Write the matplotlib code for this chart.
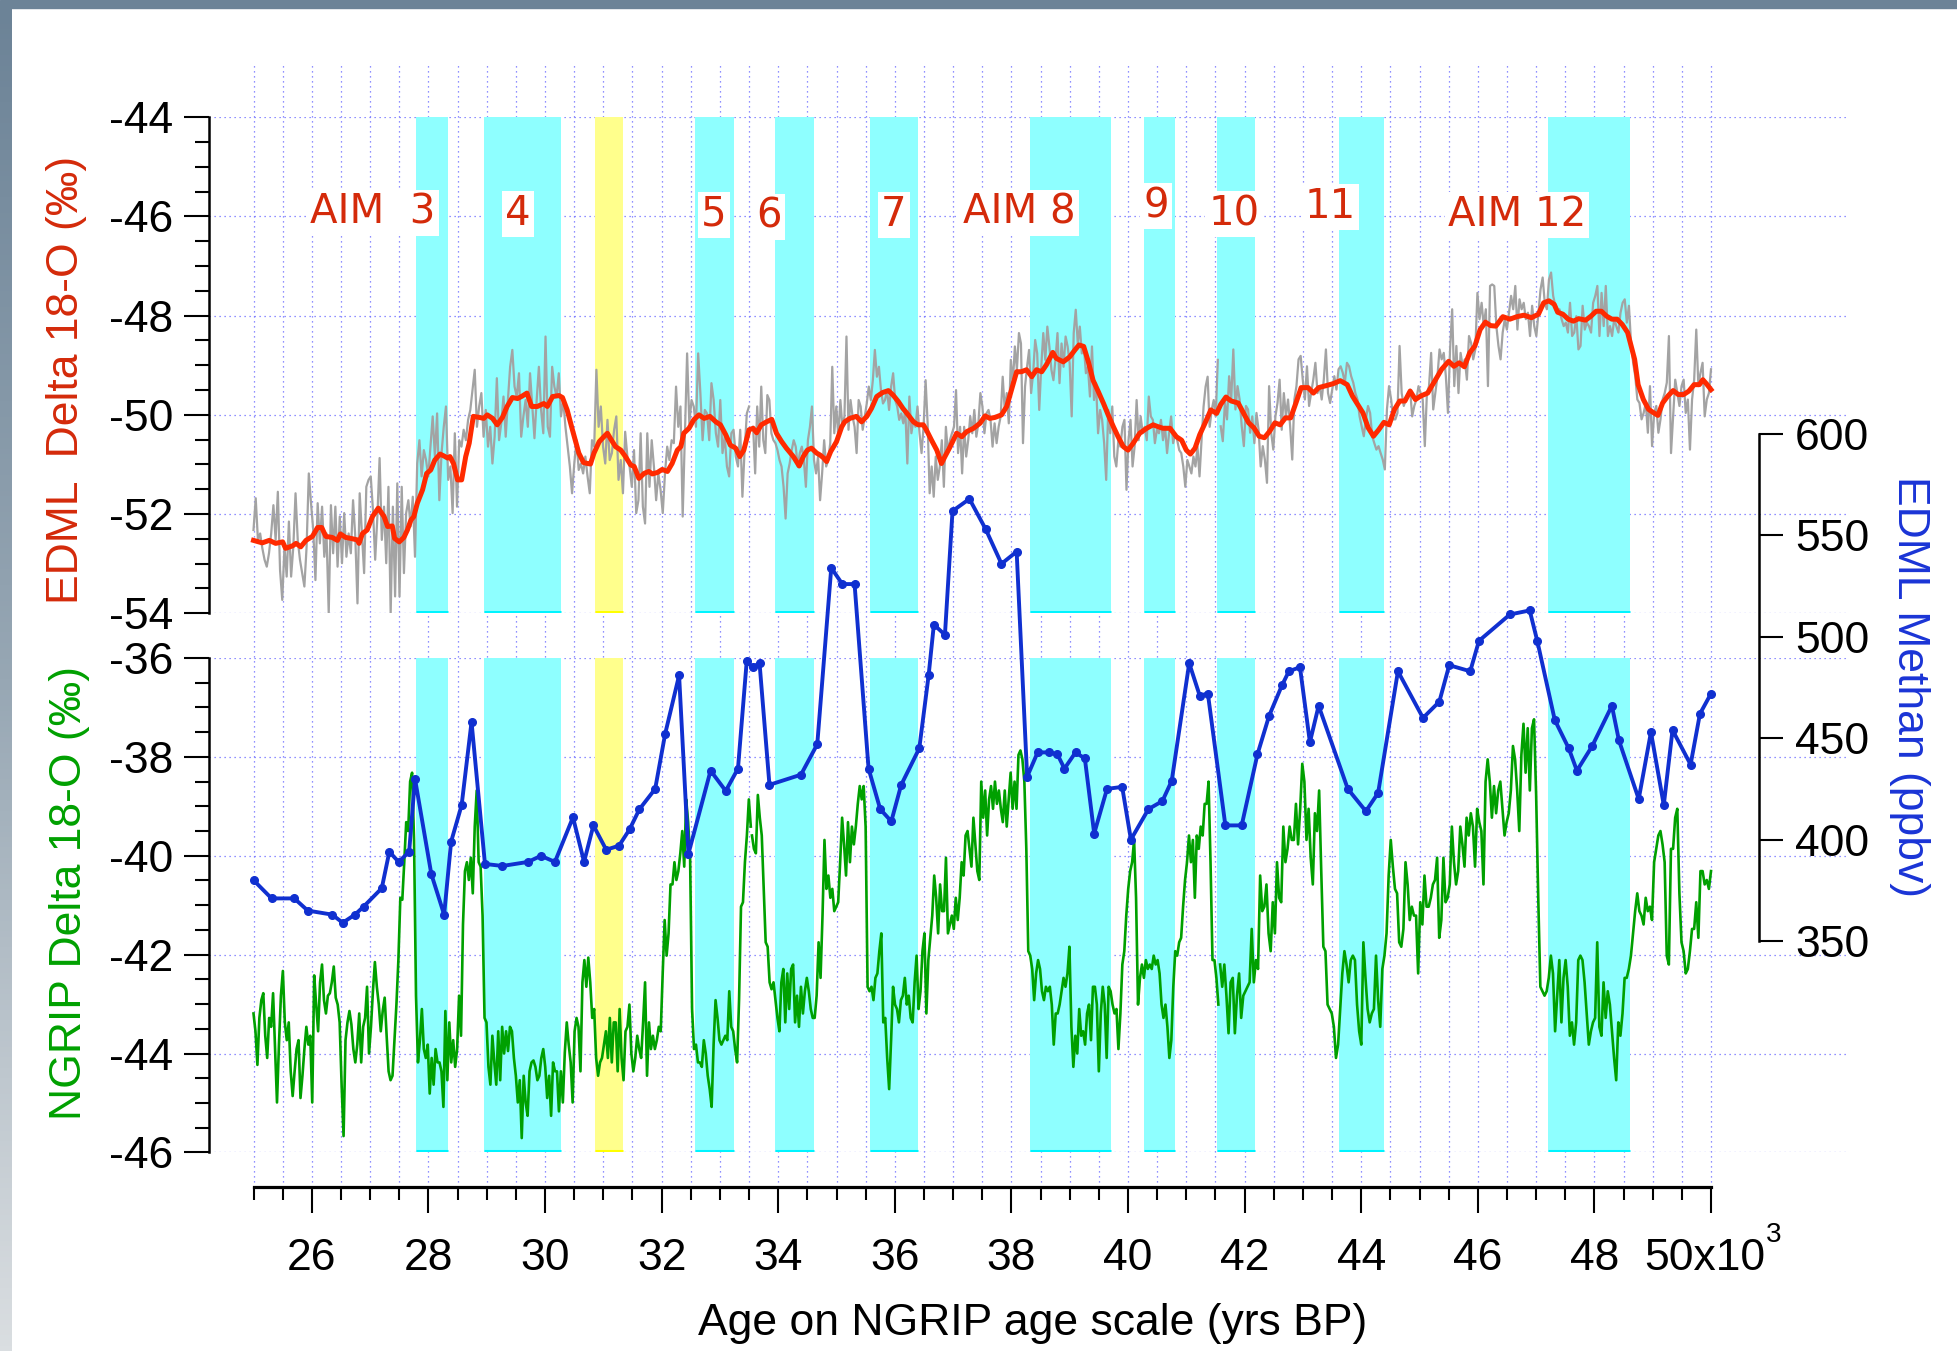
import numpy as np
import matplotlib
matplotlib.use("Agg")
import matplotlib.pyplot as plt
from matplotlib.ticker import MultipleLocator, FixedLocator
from matplotlib.patches import Rectangle
from matplotlib.colors import LinearSegmentedColormap

plt.rcParams['font.family'] = ['Liberation Sans', 'DejaVu Sans']
plt.rcParams['axes.unicode_minus'] = False

# ---------------- data (ages in ka BP) ----------------
# EDML d18O, smoothed (red)
RED_AGE = [
    25.00, 25.15, 25.27, 25.38, 25.50, 25.55, 25.67, 25.73, 25.81, 25.90, 26.01, 26.10, 26.17, 26.24,
    26.35, 26.44, 26.49, 26.58, 26.67, 26.78, 26.81, 26.87, 26.95, 27.04, 27.14, 27.24, 27.30, 27.38,
    27.42, 27.50, 27.58, 27.64, 27.70, 27.75, 27.81, 27.90, 27.97, 28.04, 28.11, 28.20, 28.27, 28.33,
    28.37, 28.43, 28.50, 28.57, 28.64, 28.70, 28.77, 28.87, 28.95, 29.01, 29.10, 29.18, 29.27, 29.35,
    29.44, 29.53, 29.61, 29.69, 29.77, 29.87, 29.98, 30.04, 30.13, 30.24, 30.30, 30.38, 30.47, 30.58,
    30.66, 30.73, 30.78, 30.84, 30.93, 31.01, 31.07, 31.13, 31.21, 31.30, 31.38, 31.47, 31.53, 31.61,
    31.70, 31.78, 31.84, 31.93, 32.01, 32.10, 32.18, 32.27, 32.33, 32.38, 32.47, 32.55, 32.64, 32.73,
    32.83, 32.93, 33.01, 33.10, 33.18, 33.27, 33.34, 33.41, 33.50,
    33.57, 33.63, 33.71, 33.80, 33.89, 33.97, 34.06, 34.14, 34.26, 34.36, 34.43, 34.50, 34.57, 34.66,
    34.72, 34.78, 34.83, 34.90, 35.00, 35.09, 35.14, 35.23, 35.34, 35.43, 35.52, 35.60, 35.69, 35.79,
    35.89, 35.97, 36.06, 36.14, 36.23, 36.32, 36.40, 36.49, 36.54, 36.63, 36.72, 36.80, 36.86, 36.95,
    37.06, 37.15, 37.23, 37.35, 37.46, 37.55, 37.63, 37.72, 37.83, 37.92, 38.00, 38.09, 38.17, 38.26,
    38.35, 38.43, 38.52, 38.60, 38.71, 38.77, 38.89, 39.00, 39.09, 39.16, 39.24, 39.32, 39.40, 39.49,
    39.58, 39.66, 39.75, 39.83, 39.92, 40.00, 40.09, 40.20, 40.32, 40.43, 40.52, 40.60, 40.72, 40.83,
    40.92, 41.00, 41.07, 41.15, 41.23, 41.32, 41.42, 41.52,
    41.59, 41.68, 41.77, 41.89, 41.98, 42.07, 42.16, 42.25, 42.34, 42.43, 42.52, 42.61, 42.70, 42.79,
    42.88, 42.97, 43.09, 43.18, 43.27, 43.40, 43.52, 43.64, 43.76, 43.85, 43.94, 44.03, 44.12, 44.21,
    44.30, 44.39, 44.48, 44.57, 44.66, 44.75, 44.84, 44.93, 45.02, 45.14, 45.26, 45.38, 45.50, 45.59,
    45.68, 45.77, 45.86, 45.95, 46.04, 46.13, 46.22, 46.31, 46.43, 46.55, 46.67, 46.79, 46.92, 47.04,
    47.13, 47.22, 47.31, 47.37, 47.46, 47.55, 47.64, 47.73, 47.85, 47.94, 48.03, 48.12, 48.21, 48.30,
    48.39, 48.48, 48.57, 48.64, 48.69, 48.75, 48.84, 48.93, 49.02, 49.09, 49.17, 49.26, 49.35, 49.44,
    49.53, 49.62, 49.71, 49.80, 49.86, 49.92, 50.00,
]
RED_D18O = [
    -52.53, -52.58, -52.53, -52.59, -52.56, -52.69, -52.64, -52.59, -52.66, -52.53, -52.45, -52.27, -52.27, -52.45,
    -52.47, -52.53, -52.40, -52.47, -52.49, -52.52, -52.59, -52.39, -52.32, -52.05, -51.88, -52.05, -52.25, -52.24,
    -52.49, -52.56, -52.47, -52.32, -52.12, -52.05, -51.78, -51.51, -51.18, -51.11, -50.91, -50.79, -50.83, -50.87,
    -50.84, -50.98, -51.31, -51.31, -50.84, -50.57, -50.03, -50.05, -50.07, -50.00, -50.07, -50.20, -50.05, -49.83,
    -49.65, -49.67, -49.62, -49.56, -49.83, -49.83, -49.77, -49.83, -49.63, -49.61, -49.65, -49.90, -50.30, -50.77,
    -50.96, -50.98, -50.99, -50.77, -50.54, -50.44, -50.37, -50.49, -50.64, -50.71, -50.84, -51.01, -51.04, -51.28,
    -51.18, -51.14, -51.19, -51.16, -51.10, -51.14, -50.98, -50.71, -50.64, -50.37, -50.27, -50.10, -50.00, -50.07,
    -50.03, -50.14, -50.20, -50.40, -50.61, -50.67, -50.84, -50.71, -50.30,
    -50.27, -50.36, -50.20, -50.14, -50.09, -50.37, -50.54, -50.67, -50.84, -51.03, -50.84, -50.71, -50.67, -50.77,
    -50.81, -50.87, -50.94, -50.74, -50.54, -50.24, -50.14, -50.07, -50.03, -50.14, -50.03, -49.87, -49.63, -49.55,
    -49.51, -49.60, -49.73, -49.87, -50.00, -50.14, -50.20, -50.20, -50.30, -50.51, -50.71, -50.98, -50.84, -50.64,
    -50.37, -50.44, -50.34, -50.27, -50.17, -50.02, -50.07, -50.05, -50.00, -49.83, -49.50, -49.13, -49.13, -49.09,
    -49.23, -49.09, -49.13, -48.99, -48.74, -48.86, -48.93, -48.83, -48.69, -48.59, -48.62, -48.93, -49.30, -49.53,
    -49.77, -50.00, -50.24, -50.44, -50.64, -50.71, -50.57, -50.37, -50.27, -50.20, -50.24, -50.27, -50.27, -50.44,
    -50.51, -50.71, -50.79, -50.67, -50.40, -50.17, -49.90, -49.97,
    -49.79, -49.64, -49.72, -49.76, -49.96, -50.16, -50.26, -50.43, -50.46, -50.33, -50.16, -50.20, -50.06, -50.06,
    -49.76, -49.45, -49.45, -49.56, -49.45, -49.41, -49.37, -49.31, -49.39, -49.62, -49.79, -49.96, -50.26, -50.43,
    -50.30, -50.15, -50.20, -49.89, -49.72, -49.72, -49.52, -49.69, -49.62, -49.56, -49.32, -49.08, -48.92, -49.02,
    -48.95, -49.03, -48.75, -48.61, -48.28, -48.13, -48.20, -48.21, -48.02, -48.07, -48.02, -47.99, -48.04, -47.97,
    -47.74, -47.70, -47.77, -47.93, -47.97, -48.07, -48.11, -48.06, -48.09, -48.01, -47.91, -47.91, -48.01, -48.07,
    -48.07, -48.18, -48.34, -48.65, -48.88, -49.39, -49.69, -49.89, -49.96, -50.01, -49.76, -49.62, -49.51, -49.59,
    -49.59, -49.52, -49.39, -49.39, -49.29, -49.37, -49.49,
]

# EDML d18O, raw (grey); three runs, each evenly spaced between its first and last age
GRAY_SPANS = [(25.00, 33.50), (33.57, 41.54), (41.59, 50.00)]
GRAY_1 = [
    -52.32, -51.68, -52.52, -52.39, -52.69, -52.92, -53.06, -52.79, -52.39, -51.82,
    -52.52, -51.55, -53.13, -53.73, -52.66, -53.26, -52.15, -53.26, -52.66, -51.58,
    -52.52, -52.92, -53.19, -53.46, -52.66, -51.18, -51.78, -52.32, -53.33, -51.78,
    -52.59, -51.85, -52.86, -52.39, -54.00, -51.82, -52.79, -51.85, -53.06, -52.05,
    -52.99, -51.98, -52.86, -52.39, -52.79, -51.72, -52.45, -53.80, -51.58, -52.39,
    -53.19, -51.45, -51.31, -51.24, -51.92, -52.92, -52.05, -50.87, -52.52, -51.85,
    -52.99, -51.45, -54.00, -51.85, -53.66, -51.38, -53.66, -51.45, -53.19, -51.98,
    -51.72, -52.25, -51.65, -52.86, -50.98, -50.51, -51.24, -50.71, -50.91, -51.24,
    -50.64, -50.03, -50.84, -49.97, -51.72, -50.77, -50.24, -49.83, -51.31, -51.04,
    -51.98, -50.37, -51.85, -50.51, -50.64, -50.30, -50.51, -50.10, -49.90, -49.50,
    -49.09, -50.24, -49.83, -49.56, -50.44, -49.90, -50.64, -50.24, -50.98, -50.44,
    -49.26, -50.51, -50.17, -49.63, -50.44, -49.70, -49.03, -48.69, -49.43, -49.63,
    -49.16, -50.44, -50.03, -49.70, -50.24, -49.16, -49.83, -50.47, -49.70, -49.03,
    -49.90, -50.37, -48.42, -50.24, -50.44, -49.03, -49.43, -49.63, -49.16, -50.03,
    -49.70, -50.24, -50.64, -51.04, -51.58, -50.98, -50.51, -51.11, -50.98, -51.18,
    -50.84, -51.24, -51.58, -50.51, -50.64, -49.09, -50.24, -49.83, -50.64, -50.98,
    -50.10, -50.91, -50.77, -50.30, -50.03, -51.31, -50.91, -51.58, -50.34, -50.84,
    -51.04, -51.45, -50.71, -51.98, -51.72, -50.37, -51.85, -52.19, -50.37, -51.45,
    -50.51, -51.04, -51.72, -51.18, -51.51, -51.98, -51.18, -50.64, -50.91, -50.51,
    -50.57, -49.43, -50.24, -49.83, -52.05, -50.44, -48.76, -50.17, -49.70, -49.83,
    -50.24, -48.76, -49.56, -50.51, -49.90, -49.97, -50.51, -49.36, -49.70, -50.37,
    -50.64, -49.70, -50.77, -50.44, -51.04, -51.24, -50.37, -50.30, -50.84, -51.04,
    -50.30, -51.65, -50.71, -49.97, -49.83,
]
GRAY_2 = [
    -50.24, -51.18, -49.83, -50.64, -49.43, -50.51, -50.77, -49.60, -49.70, -50.37,
    -50.51, -50.57, -50.71, -50.91, -51.04, -51.45, -52.09, -51.18, -50.98, -50.71,
    -50.51, -50.64, -51.04, -50.77, -50.64, -50.91, -51.45, -50.51, -50.24, -49.83,
    -50.91, -51.18, -50.84, -51.72, -51.18, -50.51, -51.04, -50.91, -50.57, -49.03,
    -50.37, -49.83, -50.44, -49.70, -50.24, -50.03, -48.42, -50.30, -49.70, -50.03,
    -50.24, -50.77, -49.70, -49.83, -50.30, -50.03, -49.77, -49.43, -49.70, -49.30,
    -48.69, -49.23, -49.03, -49.50, -49.77, -49.70, -49.50, -49.90, -49.43, -49.16,
    -49.70, -49.83, -50.10, -49.97, -50.17, -49.90, -50.98, -49.63, -50.37, -50.10,
    -50.24, -49.83, -50.37, -50.77, -50.24, -49.30, -50.17, -51.58, -51.04, -51.65,
    -50.84, -51.31, -51.04, -50.51, -51.45, -50.24, -50.77, -50.51, -50.37, -50.24,
    -49.50, -50.77, -50.24, -51.18, -50.24, -50.84, -50.51, -50.03, -50.37, -49.90,
    -50.44, -50.17, -49.56, -49.83, -50.37, -49.97, -49.90, -50.10, -50.64, -50.17,
    -50.57, -50.24, -50.03, -49.23, -49.90, -49.56, -50.17, -48.89, -49.36, -48.62,
    -49.09, -48.35, -48.56, -50.57, -49.43, -49.03, -48.69, -49.56, -49.16, -48.49,
    -48.76, -49.90, -49.03, -48.35, -48.89, -48.22, -48.62, -49.09, -49.30, -48.89,
    -48.35, -49.36, -48.56, -49.03, -48.42, -48.62, -48.96, -50.03, -48.35, -47.88,
    -48.56, -48.22, -48.76, -48.62, -49.16, -49.03, -49.63, -48.62, -49.70, -49.36,
    -50.37, -49.90, -50.10, -50.57, -51.31, -49.90, -50.37, -49.83, -50.84, -51.04,
    -50.51, -50.64, -50.24, -50.10, -51.51, -50.51, -50.10, -51.04, -50.64, -49.70,
    -50.51, -50.03, -50.37, -50.24, -50.51, -49.63, -50.03, -50.10, -50.57, -50.30,
    -50.37, -50.10, -50.51, -50.24, -50.77, -50.37, -50.03, -50.57, -50.37, -50.51,
    -50.71, -50.77, -51.04, -51.45, -50.91, -51.04, -51.18, -50.84, -51.04, -50.64,
    -51.24, -50.51, -49.83, -49.43, -49.23, -50.24, -49.90, -49.70, -50.03, -48.89,
]
GRAY_3 = [
    -50.23, -50.53, -49.76, -50.09, -49.22, -49.69, -48.68, -49.89, -49.42, -49.69,
    -50.23, -50.63, -49.82, -49.89, -50.36, -50.03, -50.57, -49.96, -50.30, -51.04,
    -50.63, -50.90, -51.37, -49.42, -50.36, -50.70, -50.03, -49.76, -49.29, -50.30,
    -49.56, -50.03, -49.69, -50.23, -50.90, -49.69, -49.42, -48.88, -48.81, -49.29,
    -49.69, -49.02, -49.82, -49.56, -49.29, -48.95, -49.56, -49.42, -49.69, -49.29,
    -48.68, -49.56, -49.76, -49.49, -49.22, -49.49, -49.08, -49.02, -49.15, -49.35,
    -48.95, -49.02, -49.22, -49.35, -49.56, -49.69, -50.03, -50.23, -50.43, -50.09,
    -49.82, -49.96, -50.43, -50.57, -50.70, -50.63, -50.77, -50.90, -51.10, -49.89,
    -49.42, -49.69, -50.09, -50.09, -49.96, -48.61, -49.56, -49.82, -49.69, -49.56,
    -49.49, -50.03, -49.82, -49.69, -49.42, -49.56, -49.69, -50.63, -49.56, -49.42,
    -48.75, -49.89, -49.56, -49.22, -48.68, -48.88, -48.75, -49.22, -49.96, -48.68,
    -47.87, -49.42, -48.61, -49.56, -48.75, -49.02, -48.88, -49.29, -48.41, -48.55,
    -48.88, -48.68, -47.54, -48.07, -47.74, -48.21, -47.87, -49.42, -47.40, -47.37,
    -47.40, -48.21, -48.61, -48.88, -48.34, -48.07, -48.28, -47.94, -47.60, -47.87,
    -47.40, -48.28, -47.67, -47.87, -47.74, -48.07, -47.94, -48.41, -47.80, -48.21,
    -48.41, -47.94, -47.47, -47.23, -47.74, -47.87, -47.27, -47.13, -47.60, -47.80,
    -47.94, -47.87, -48.07, -48.21, -48.14, -48.34, -47.74, -48.41, -48.34, -48.01,
    -48.68, -48.61, -47.80, -48.28, -48.14, -48.21, -48.34, -47.74, -47.60, -47.40,
    -48.41, -47.54, -48.21, -47.40, -48.41, -48.21, -48.41, -48.07, -48.21, -48.34,
    -47.94, -47.74, -47.67, -48.14, -47.80, -48.55, -48.95, -49.22, -49.69, -49.76,
    -50.09, -49.96, -49.76, -50.36, -49.42, -50.63, -49.96, -49.82, -50.36, -50.09,
    -49.69, -49.56, -49.35, -48.41, -50.77, -50.03, -49.29, -49.56, -49.82, -49.42,
    -49.29, -49.96, -49.69, -50.70, -49.69, -49.29, -48.28, -49.42, -49.15, -48.95,
    -50.03, -49.69, -49.56, -49.08,
]

# NGRIP d18O (green); three runs, each evenly spaced between its first and last age
GREEN_SPANS = [(25.00, 33.53), (33.55, 41.55), (41.58, 50.00)]
GREEN_1 = [
    -43.19, -43.55, -44.23, -43.28, -42.92, -42.78, -43.64, -44.09, -43.28, -43.46,
    -42.78, -43.91, -44.99, -43.82, -42.83, -42.33, -43.37, -43.73, -43.37, -44.36,
    -44.86, -44.36, -43.91, -43.73, -44.90, -44.45, -43.91, -43.46, -43.82, -43.64,
    -44.99, -42.42, -43.01, -43.55, -42.56, -42.20, -42.92, -43.19, -42.83, -42.78,
    -42.56, -42.24, -42.87, -43.01, -43.37, -44.63, -45.67, -43.73, -43.37, -43.14,
    -43.41, -43.91, -44.18, -43.82, -43.19, -44.18, -43.46, -43.28, -42.65, -44.00,
    -43.46, -42.74, -42.15, -42.65, -43.01, -43.55, -43.14, -42.87, -43.64, -44.36,
    -44.54, -44.45, -43.73, -43.01, -42.11, -40.85, -40.89, -40.13, -39.32, -39.50,
    -38.50, -38.32, -39.68, -42.83, -44.18, -43.73, -43.10, -43.91, -44.09, -43.82,
    -44.81, -44.09, -44.63, -43.91, -44.18, -44.18, -44.36, -45.08, -43.14, -44.54,
    -43.37, -44.18, -43.73, -44.27, -43.91, -42.83, -43.64, -41.39, -40.31, -40.13,
    -40.49, -40.04, -40.76, -39.41, -38.68, -40.13, -40.22, -41.21, -43.28, -43.37,
    -44.27, -44.63, -43.64, -44.18, -44.63, -43.55, -44.54, -43.46, -44.00, -43.55,
    -43.95, -43.46, -43.55, -44.09, -44.45, -44.99, -44.54, -45.71, -44.45, -44.99,
    -45.26, -44.36, -44.18, -44.14, -44.27, -44.54, -44.45, -44.09, -43.91, -44.27,
    -44.90, -44.45, -45.26, -44.18, -44.36, -44.36, -45.17, -44.36, -44.99, -43.98,
    -43.37, -43.82, -44.18, -44.99, -43.55, -43.28, -43.46, -44.36, -42.56, -42.11,
    -42.65, -42.06, -42.56, -43.28, -43.10, -44.09, -44.45, -44.18, -44.09, -43.82,
    -43.55, -44.09, -43.28, -44.18, -43.37, -43.37, -44.36, -43.10, -44.09, -44.54,
    -43.55, -43.46, -43.01, -44.00, -44.36, -44.09, -43.64, -43.91, -44.09, -43.37,
    -42.56, -44.45, -43.37, -43.91, -43.64, -43.91, -43.73, -43.46, -43.55, -42.38,
    -41.30, -42.02, -41.57, -40.58, -40.58, -40.13, -40.49, -40.31, -39.95, -39.50,
    -40.22, -38.86, -39.32, -40.04, -43.10, -43.91, -43.82, -44.18, -44.18, -44.27,
    -43.73, -44.00, -44.45, -44.72, -45.08, -43.82, -42.92, -43.28, -43.73, -43.82,
    -43.73, -43.64, -43.73, -42.74, -43.46, -43.55, -43.91, -44.18, -42.92, -41.03,
    -40.94, -40.13, -39.59, -38.86, -39.41,
]
GREEN_2 = [
    -39.59, -39.86, -39.95, -38.77, -39.23, -39.59, -40.67, -41.75, -41.84, -42.56,
    -42.70, -42.56, -42.92, -43.28, -43.55, -42.56, -42.29, -43.37, -42.38, -43.10,
    -42.29, -42.20, -43.37, -42.83, -43.46, -42.65, -43.19, -42.74, -42.47, -42.74,
    -43.10, -43.28, -43.28, -42.83, -41.75, -42.47, -41.21, -39.68, -40.67, -40.40,
    -40.85, -40.67, -41.12, -41.03, -40.94, -40.13, -39.23, -39.77, -40.40, -39.32,
    -40.13, -39.41, -39.77, -39.41, -38.95, -38.59, -38.86, -38.59, -39.41, -42.65,
    -42.74, -42.65, -42.92, -42.47, -42.38, -41.93, -41.57, -43.37, -43.28, -44.09,
    -44.72, -43.73, -42.65, -43.01, -43.10, -43.37, -42.92, -42.83, -42.47, -43.01,
    -42.83, -43.28, -43.37, -42.56, -42.02, -43.10, -42.74, -41.93, -41.57, -43.19,
    -42.11, -41.66, -41.21, -40.40, -40.85, -41.57, -40.58, -41.12, -41.12, -40.04,
    -41.57, -41.39, -41.21, -41.48, -40.85, -41.30, -40.85, -40.13, -40.40, -39.59,
    -39.50, -39.86, -40.22, -39.23, -39.77, -40.31, -40.49, -38.50, -39.23, -38.68,
    -39.59, -38.86, -38.59, -39.05, -38.50, -38.95, -38.68, -39.05, -39.32, -38.68,
    -39.41, -38.86, -38.32, -39.05, -38.50, -39.05, -37.96, -37.87, -38.05, -38.50,
    -39.86, -41.93, -42.02, -42.29, -42.92, -42.38, -42.11, -42.29, -42.74, -42.92,
    -42.65, -42.74, -42.65, -43.01, -43.82, -43.19, -43.19, -43.01, -42.74, -42.47,
    -42.65, -42.38, -41.84, -43.46, -44.27, -43.64, -44.00, -43.10, -43.64, -43.55,
    -43.82, -43.19, -43.01, -43.73, -42.65, -42.65, -43.01, -44.36, -43.19, -42.65,
    -43.01, -44.09, -42.65, -42.74, -43.01, -43.19, -43.10, -43.91, -43.19, -42.20,
    -41.93, -41.21, -40.67, -40.31, -40.13, -39.68, -40.85, -43.01, -42.47, -42.20,
    -42.47, -42.11, -42.29, -42.20, -42.29, -42.02, -42.20, -42.11, -42.38, -43.01,
    -43.28, -43.01, -43.46, -44.09, -43.73, -42.65, -41.93, -42.02, -41.75, -41.66,
    -41.03, -40.49, -40.13, -39.59, -40.13, -39.68, -40.85, -39.59, -39.86, -39.41,
    -39.59, -38.95, -38.95, -38.50, -40.13, -42.11, -42.11, -42.47, -43.01,
]
GREEN_3 = [
    -42.20, -42.65, -42.20, -42.83, -43.59, -42.56, -42.47, -43.59, -42.83, -42.38,
    -43.28, -42.83, -42.74, -42.65, -42.56, -41.48, -42.56, -42.11, -42.29, -40.40,
    -41.12, -41.03, -40.58, -41.57, -41.93, -40.94, -41.57, -40.13, -40.85, -40.94,
    -39.41, -40.13, -39.86, -39.41, -39.68, -39.68, -38.95, -39.77, -39.05, -38.14,
    -38.50, -39.68, -39.05, -40.04, -40.58, -39.14, -39.50, -38.68, -40.31, -41.84,
    -41.93, -43.01, -43.10, -43.19, -43.46, -44.09, -43.82, -43.10, -42.38, -41.93,
    -42.20, -42.56, -42.11, -42.02, -42.11, -43.01, -43.55, -43.82, -41.75, -42.47,
    -43.10, -43.37, -43.19, -43.10, -42.02, -42.92, -43.46, -42.29, -42.02, -41.57,
    -40.40, -39.68, -40.22, -40.67, -40.76, -41.75, -41.84, -41.48, -40.13, -40.58,
    -41.30, -41.03, -41.21, -41.21, -42.38, -40.94, -41.39, -40.40, -41.03, -41.03,
    -40.85, -40.58, -40.49, -40.04, -41.66, -41.30, -40.04, -40.94, -40.85, -40.58,
    -39.41, -40.13, -40.58, -40.31, -39.41, -39.77, -40.22, -39.23, -39.59, -39.14,
    -39.41, -40.22, -39.05, -39.32, -39.50, -40.58, -38.50, -38.05, -38.50, -39.23,
    -38.59, -39.14, -38.68, -38.50, -39.05, -39.59, -39.32, -39.14, -38.68, -37.78,
    -38.05, -38.68, -39.50, -37.96, -37.33, -38.32, -37.42, -38.68, -37.42, -37.24,
    -38.77, -40.85, -42.65, -42.74, -42.83, -42.74, -42.47, -42.02, -42.38, -43.55,
    -42.83, -42.11, -43.37, -42.47, -42.11, -42.65, -43.64, -43.37, -43.82, -43.37,
    -42.11, -42.02, -42.11, -42.56, -43.19, -43.82, -43.55, -43.37, -43.28, -41.75,
    -43.46, -43.64, -42.56, -43.28, -42.74, -43.01, -43.55, -44.09, -44.54, -43.37,
    -43.64, -43.19, -42.47, -42.47, -42.29, -42.02, -41.57, -41.12, -40.76, -41.12,
    -41.21, -41.39, -40.85, -41.12, -41.03, -41.30, -40.13, -39.86, -39.59, -39.50,
    -39.77, -40.13, -42.02, -42.20, -39.86, -39.86, -39.23, -39.05, -40.76, -41.75,
    -41.93, -42.38, -42.29, -41.93, -41.48, -41.48, -40.94, -41.66, -40.31, -40.31,
    -40.58, -40.49, -40.67, -40.31,
]

# EDML methane (blue, ppbv)
CH4_AGE = [
    25.00, 25.31, 25.70, 25.93, 26.35, 26.53, 26.74, 26.89, 27.20, 27.33, 27.49, 27.67, 27.77,
    28.05, 28.27, 28.39, 28.57, 28.74, 28.97, 29.27, 29.71, 29.93, 30.17,
    30.48, 30.67, 30.83, 31.05, 31.27, 31.45, 31.62, 31.89, 32.06, 32.30, 32.46, 32.84, 33.10, 33.31, 33.46,
    33.56, 33.68, 33.85, 34.39, 34.67, 34.91, 35.10, 35.31, 35.55, 35.75, 35.94, 36.11, 36.42, 36.58,
    36.67, 36.86, 36.99, 37.28, 37.56, 37.83, 38.09,
    38.27, 38.45, 38.65, 38.79, 38.91, 39.10, 39.26, 39.42, 39.64, 39.90, 40.05, 40.35, 40.59, 40.75, 41.05,
    41.23, 41.37, 41.67, 41.95, 42.22, 42.42, 42.64, 42.76, 42.95, 43.12, 43.27, 43.77, 44.08, 44.29,
    44.63, 45.06, 45.34, 45.51, 45.87, 46.02, 46.55, 46.89, 47.02,
    47.32, 47.56, 47.70, 47.96, 48.30, 48.42, 48.76, 48.97, 49.19, 49.34, 49.65, 49.81, 50.00,
]
CH4 = [
    380, 371, 371, 365, 363, 359, 363, 367, 376, 394, 389, 394, 430,
    383, 363, 399, 417, 458, 388, 387, 389, 392, 389,
    411, 389, 407, 395, 397, 405, 415, 425, 452, 481, 393, 434, 424, 435, 488,
    485, 487, 427, 432, 447, 534, 526, 526, 435, 415, 409, 427, 445, 481,
    506, 501, 562, 568, 553, 536, 542,
    431, 443, 443, 442, 435, 443, 440, 403, 425, 426, 400, 415, 419, 429, 487,
    471, 472, 407, 407, 442, 461, 476, 483, 485, 448, 466, 425, 414, 423,
    483, 460, 468, 486, 483, 498, 511, 513, 498,
    459, 445, 434, 446, 466, 449, 420, 453, 417, 454, 437, 462, 472,
]

# Antarctic Isotope Maxima bands (ka) and labels
CYAN_BANDS = [(27.78, 28.34), (28.96, 30.27), (32.58, 33.25), (33.95, 34.62), (35.58, 36.40),
              (38.32, 39.70), (40.27, 40.81), (41.52, 42.18), (43.62, 44.39), (47.21, 48.61)]
YELLOW_BANDS = [(30.85, 31.34)]
AIM_LABELS = ['AIM  3', '4', '5', '6', '7', 'AIM 8', '9', '10', '11', 'AIM 12']
AIM_LABEL_PX = [(373, 213), (518, 214), (714, 215), (769, 217), (894, 215),
                (1019, 213), (1156, 206), (1234, 214), (1330, 207), (1517, 215)]

X_TICKS = list(range(26, 51, 2))
X_TICK_LABELS = [str(t) for t in X_TICKS[:-1]] + ['']

# ---------------- layout ----------------
W, H = 1958, 1351
X0_PX, PX_PER_KA = 253.5, 58.3          # 25 ka at x=253.5 px, 58.3 px per ka


def px2ka(x):
    return 25 + (x - X0_PX) / PX_PER_KA


def box(x0, y0, x1, y1):
    return [x0 / W, 1 - y1 / H, (x1 - x0) / W, (y1 - y0) / H]


XLIM = (px2ka(209), px2ka(1849))
GRID_C = '#6c6cff'
GRID_LS = (0, (1, 3))
RED_TXT = '#d42a0a'
GREEN = '#00a000'
BLUE = '#1030d0'

fig = plt.figure(figsize=(W / 100, H / 100), dpi=100)
fig.patch.set_facecolor('white')

# vertical dotted grid, behind everything
ax_bg = fig.add_axes(box(209, 62, 1849, 1187))
ax_bg.set_xlim(XLIM)
ax_bg.set_ylim(0, 1)
ax_bg.axis('off')
ax_bg.vlines(np.arange(25, 50.01, 0.5), 0, 1, color=GRID_C, lw=0.9, ls=GRID_LS)
ax_bg.set_zorder(0)

ax_top = fig.add_axes(box(209, 117.3, 1849, 613.3))
ax_bot = fig.add_axes(box(209, 658.0, 1849, 1152.4))
for ax, lo, hi in ((ax_top, -54, -44), (ax_bot, -46, -36)):
    ax.set_zorder(1)
    ax.set_xlim(XLIM)
    ax.set_ylim(lo, hi)
    ax.patch.set_visible(False)
    for s in ('top', 'right', 'bottom'):
        ax.spines[s].set_visible(False)
    ax.spines['left'].set_linewidth(1.8)
    ax.yaxis.set_major_locator(MultipleLocator(2))
    ax.yaxis.set_minor_locator(MultipleLocator(0.5))
    ax.tick_params(axis='y', which='major', length=18, width=1.5, labelsize=32, pad=8)
    ax.tick_params(axis='y', which='minor', length=10, width=1.5)
    ax.tick_params(axis='x', which='both', bottom=False, labelbottom=False)
    ax.set_axisbelow(True)
    ax.yaxis.grid(True, which='major', color=GRID_C, lw=0.9, ls=GRID_LS)
    for a, b in CYAN_BANDS:
        ax.axvspan(a, b, color='#8effff', lw=0, zorder=1)
        ax.plot([a, b], [lo + 0.03, lo + 0.03], color='#00f4ff', lw=2.2, zorder=1.2,
                solid_capstyle='butt')
    for a, b in YELLOW_BANDS:
        ax.axvspan(a, b, color='#ffff8c', lw=0, zorder=1)
        ax.plot([a, b], [lo + 0.03, lo + 0.03], color='#ffff00', lw=2.2, zorder=1.2,
                solid_capstyle='butt')

for (a0, a1), vals in zip(GRAY_SPANS, (GRAY_1, GRAY_2, GRAY_3)):
    ax_top.plot(np.linspace(a0, a1, len(vals)), vals, color='#a3a3a3', lw=1.6, zorder=2)
ax_top.plot(RED_AGE, RED_D18O, color='#ff2a00', lw=3.6, zorder=3, solid_joinstyle='round')

for (a0, a1), vals in zip(GREEN_SPANS, (GREEN_1, GREEN_2, GREEN_3)):
    ax_bot.plot(np.linspace(a0, a1, len(vals)), vals, color=GREEN, lw=1.9, zorder=2)

# methane on its own right-hand axis
ax_ch4 = fig.add_axes(box(209, 434, 1849, 941))
ax_ch4.set_zorder(2)
ax_ch4.patch.set_visible(False)
ax_ch4.set_xlim(XLIM)
ax_ch4.set_ylim(350, 600)
for s in ('top', 'left', 'bottom'):
    ax_ch4.spines[s].set_visible(False)
ax_ch4.spines['right'].set_position(('data', px2ka(1759)))
ax_ch4.spines['right'].set_linewidth(1.8)
ax_ch4.yaxis.tick_right()
ax_ch4.yaxis.set_major_locator(MultipleLocator(50))
ax_ch4.tick_params(axis='y', which='major', length=17, width=1.5, labelsize=32, pad=9)
ax_ch4.tick_params(axis='x', which='both', bottom=False, labelbottom=False)
ax_ch4.plot(CH4_AGE, CH4, color=BLUE, lw=2.8, marker='o', ms=5.5, zorder=3)

# bottom age axis
ax_x = fig.add_axes(box(209, 1186, 1849, 1187))
ax_x.set_zorder(1)
ax_x.patch.set_visible(False)
ax_x.set_xlim(XLIM)
ax_x.set_yticks([])
for s in ('top', 'left', 'right'):
    ax_x.spines[s].set_visible(False)
ax_x.spines['bottom'].set_bounds(25, 50)
ax_x.spines['bottom'].set_linewidth(2.3)
ax_x.xaxis.set_major_locator(FixedLocator(X_TICKS))
ax_x.xaxis.set_minor_locator(FixedLocator(np.arange(25, 50.01, 0.5)))
ax_x.set_xticklabels(X_TICK_LABELS)
ax_x.tick_params(axis='x', which='major', length=19, width=1.5, labelsize=32, pad=18)
ax_x.tick_params(axis='x', which='minor', length=9.5, width=1.5)
# last tick label carries the x10^3 multiplier
fig.text(1765 / W, 1 - 1270 / H, '50x10', fontsize=32, ha='right', va='baseline')
fig.text(1766 / W, 1 - 1242 / H, '3', fontsize=20, ha='left', va='baseline')

# labels
for txt, (x, y) in zip(AIM_LABELS, AIM_LABEL_PX):
    fig.text(x / W, 1 - y / H, txt, fontsize=29, family='DejaVu Sans', color=RED_TXT,
             ha='center', va='center',
             bbox=dict(boxstyle='square,pad=0.08', fc='white', ec='none'))

fig.text(67 / W, 1 - 380 / H, 'EDML  Delta 18-O (‰)', rotation=90, color=RED_TXT,
         fontsize=32, ha='center', va='center')
fig.text(70 / W, 1 - 893 / H, 'NGRIP Delta 18-O (‰)', rotation=90, color=GREEN,
         fontsize=32, ha='center', va='center')
fig.text(1910 / W, 1 - 686 / H, 'EDML Methan (ppbv)', rotation=-90, color='#1a34d6',
         fontsize=32, ha='center', va='center')
fig.text(1033 / W, 1 - 1324 / H, 'Age on NGRIP age scale (yrs BP)', fontsize=32,
         ha='center', va='center')

# window frame around the screenshot
fig.patches.append(Rectangle((0, 1 - 8 / H), 1, 8 / H, transform=fig.transFigure,
                             color='#6c8397', zorder=5))
ax_frame = fig.add_axes([0, 0, 12 / W, 1 - 8 / H])
ax_frame.imshow(np.linspace(0, 1, 256)[:, None], aspect='auto',
                cmap=LinearSegmentedColormap.from_list('frame', ['#6c8397', '#97a7b4', '#dadee1']))
ax_frame.axis('off')

fig.savefig('out.png', dpi=100, facecolor='white')
